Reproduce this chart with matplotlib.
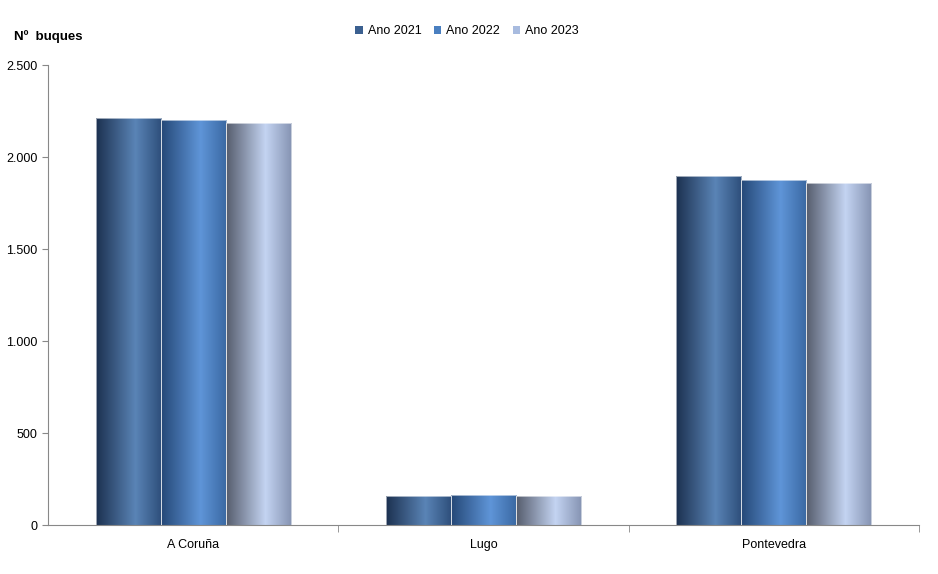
import matplotlib.pyplot as plt
import numpy as np
from matplotlib.colors import LinearSegmentedColormap
from matplotlib.patches import Patch
from matplotlib.ticker import FuncFormatter

plt.rcParams['font.family'] = ['Liberation Sans', 'DejaVu Sans']

provinces = ['A Coruña', 'Lugo', 'Pontevedra']
years = ['Ano 2021', 'Ano 2022', 'Ano 2023']
v2021 = [2210, 158, 1895]
v2022 = [2200, 162, 1873]
v2023 = [2183, 158, 1857]
values = [v2021, v2022, v2023]

legend_colors = ['#3b6090', '#4a7fc0', '#a8bbdf']
# left edge, highlight, right edge for each series
grad_colors = [
    ['#1c3150', '#5a84b6', '#2d4e7a'],
    ['#254877', '#5f95d8', '#3a68a2'],
    ['#555c6c', '#c4d4f2', '#8593b2'],
]

fig = plt.figure(figsize=(9.38, 5.74), dpi=100)
ax = fig.add_axes([48 / 938, 49 / 574, 871 / 938, 460 / 574])

x = np.arange(len(provinces))
w = 0.224
grad = np.linspace(0, 1, 256).reshape(1, -1)
for i, (vals, cols) in enumerate(zip(values, grad_colors)):
    cmap = LinearSegmentedColormap.from_list('g%d' % i, [(0, cols[0]), (0.6, cols[1]), (1, cols[2])])
    bars = ax.bar(x + (i - 1) * w, vals, w, color='none', edgecolor='none', zorder=2)
    for b in bars:
        im = ax.imshow(grad, cmap=cmap, aspect='auto', zorder=2,
                       extent=[b.get_x(), b.get_x() + b.get_width(), 0, b.get_height()])
        im.set_clip_path(b)
    # thin light top edge
    ax.bar(x + (i - 1) * w, vals, w, color='none', edgecolor='#ffffff', linewidth=0.4, zorder=3)

ax.set_xlim(-0.5, 2.5)
ax.set_ylim(0, 2500)
ax.set_yticks([0, 500, 1000, 1500, 2000, 2500])
ax.yaxis.set_major_formatter(FuncFormatter(lambda v, p: '{:,.0f}'.format(v).replace(',', '.')))
ax.set_xticks(x)
ax.set_xticklabels(provinces)
ax.set_xticks([0.5, 1.5, 2.5], minor=True)
ax.tick_params(axis='x', which='major', length=0, pad=10, labelsize=9)
ax.tick_params(axis='x', which='minor', length=5, color='#888888')
ax.tick_params(axis='y', length=4, color='#888888', labelsize=9)

for s in ['top', 'right']:
    ax.spines[s].set_visible(False)
ax.spines['left'].set_color('#888888')
ax.spines['bottom'].set_color('#888888')

fig.text(14 / 938, 1 - 37 / 574, 'Nº  buques', fontsize=9.5, fontweight='bold', va='center')

handles = [Patch(facecolor=c, edgecolor='none') for c in legend_colors]
fig.legend(handles, years, loc='center', bbox_to_anchor=(467 / 938, 1 - 31 / 574), ncol=3,
           frameon=False, fontsize=9, handlelength=0.6, handleheight=0.6,
           handletextpad=0.4, columnspacing=1.0)

fig.savefig('out.png', dpi=100)
